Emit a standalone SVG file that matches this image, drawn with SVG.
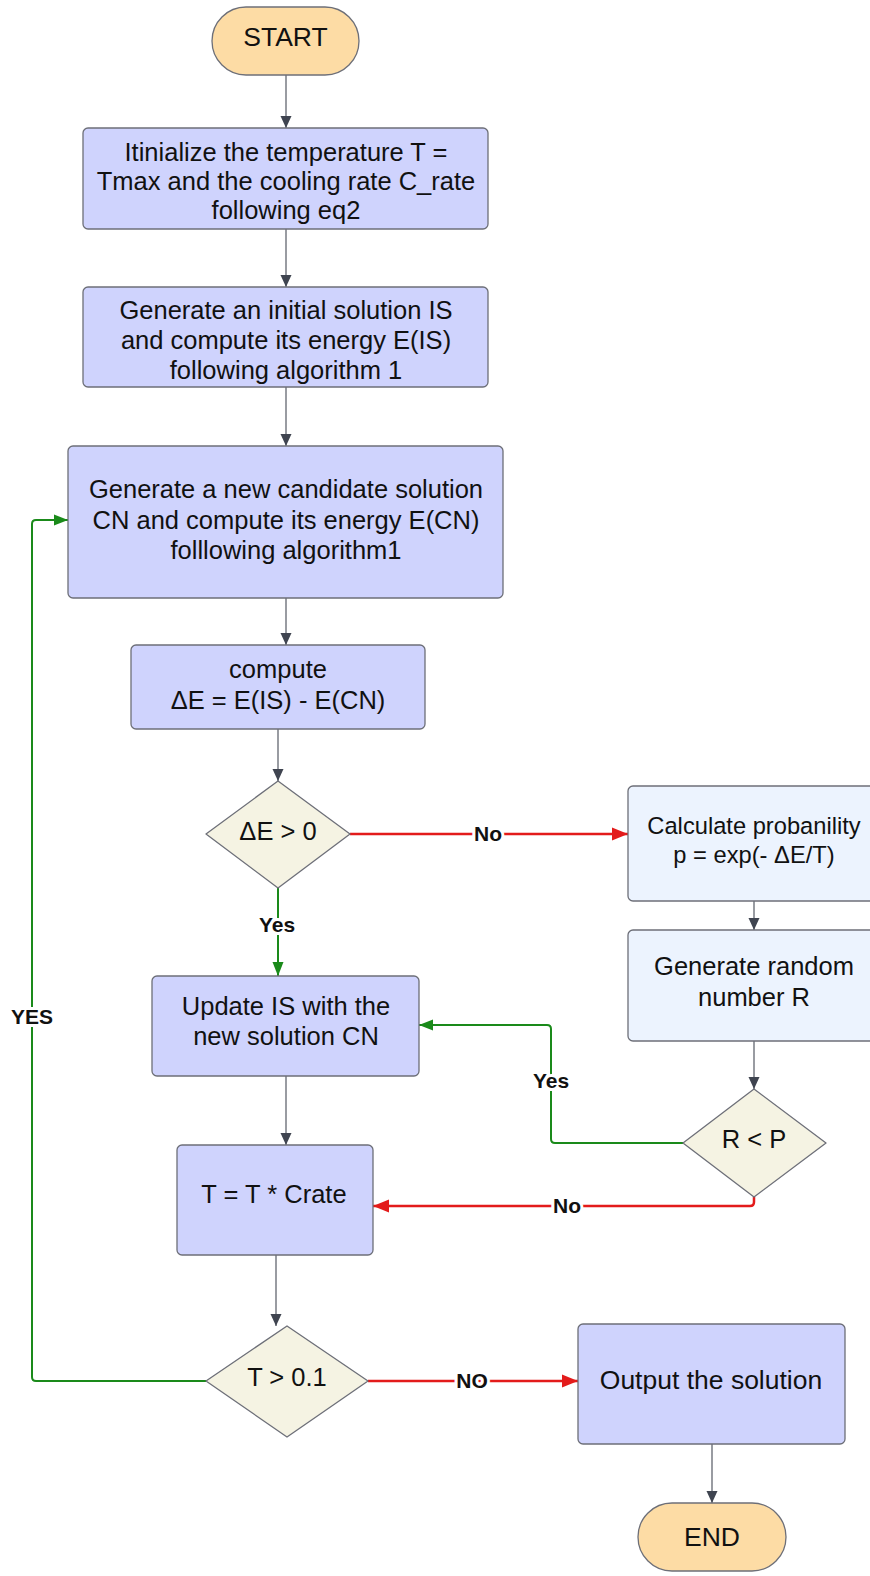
<svg xmlns="http://www.w3.org/2000/svg" width="870" height="1576" viewBox="0 0 870 1576">
  <style>
    .proc { fill: #cfd3fd; stroke: #6d6f78; stroke-width: 1.3; }
    .info { fill: #ecf3fe; stroke: #6d6f78; stroke-width: 1.3; }
    .term { fill: #fddca5; stroke: #6d6f78; stroke-width: 1.3; }
    .dec  { fill: #f5f3e3; stroke: #6d6f78; stroke-width: 1.3; stroke-linejoin: round; }
    text { font-family: "Liberation Sans", Arial, sans-serif; fill: #111; text-anchor: middle; }
    .t  { font-size: 25.5px; }
    .tl { font-size: 26.5px; }
    .ts { font-size: 23.7px; }
    .lbl { font-size: 21px; font-weight: bold; stroke: #fff; stroke-width: 6; paint-order: stroke; stroke-linejoin: round; }
    .flow { fill: none; stroke: #555a64; stroke-width: 1.2; }
    .yes  { fill: none; stroke: #1a8a1a; stroke-width: 2; }
    .no   { fill: none; stroke: #e31b1b; stroke-width: 2.5; }
  </style>
  <defs>
    <marker id="arrGray" viewBox="0 0 12 12" markerWidth="12" markerHeight="12" refX="12" refY="6" orient="auto" markerUnits="userSpaceOnUse">
      <path d="M0,0.5 L12,6 L0,11.5 Z" fill="#3f4450"/>
    </marker>
    <marker id="arrGreen" viewBox="0 0 14 12" markerWidth="14" markerHeight="12" refX="14" refY="6" orient="auto" markerUnits="userSpaceOnUse">
      <path d="M0,0.5 L14,6 L0,11.5 Z" fill="#1a8a1a"/>
    </marker>
    <marker id="arrRed" viewBox="0 0 16 14" markerWidth="16" markerHeight="14" refX="16" refY="7" orient="auto" markerUnits="userSpaceOnUse">
      <path d="M0,0.5 L16,7 L0,13.5 Z" fill="#e31b1b"/>
    </marker>
  </defs>

  <!-- connectors -->
  <g id="connectors">
    <path class="flow" d="M286,75 V128" marker-end="url(#arrGray)"/>
    <path class="flow" d="M286,229 V287" marker-end="url(#arrGray)"/>
    <path class="flow" d="M286,387 V446" marker-end="url(#arrGray)"/>
    <path class="flow" d="M286,598 V645" marker-end="url(#arrGray)"/>
    <path class="flow" d="M278,729 V781" marker-end="url(#arrGray)"/>
    <path class="yes" d="M278,888 V976" marker-end="url(#arrGreen)"/>
    <path class="no" d="M350,834 H628" marker-end="url(#arrRed)"/>
    <path class="flow" d="M754,901 V930" marker-end="url(#arrGray)"/>
    <path class="flow" d="M754,1041 V1089" marker-end="url(#arrGray)"/>
    <path class="yes" d="M683,1143 H555 Q551,1143 551,1139 V1029 Q551,1025 547,1025 H419" marker-end="url(#arrGreen)"/>
    <path class="no" d="M754,1197 V1202 Q754,1206 750,1206 H373" marker-end="url(#arrRed)"/>
    <path class="flow" d="M286,1076 V1145" marker-end="url(#arrGray)"/>
    <path class="flow" d="M276,1255 V1326" marker-end="url(#arrGray)"/>
    <path class="yes" d="M206,1381 H36 Q32,1381 32,1377 V524 Q32,520 36,520 H68" marker-end="url(#arrGreen)"/>
    <path class="no" d="M368,1381 H578" marker-end="url(#arrRed)"/>
    <path class="flow" d="M712,1444 V1503" marker-end="url(#arrGray)"/>
    <text class="lbl" x="277" y="932">Yes</text>
    <text class="lbl" x="488" y="841">No</text>
    <text class="lbl" x="551" y="1088">Yes</text>
    <text class="lbl" x="567" y="1213">No</text>
    <text class="lbl" x="32" y="1024">YES</text>
    <text class="lbl" x="472" y="1388">NO</text>
  </g>

  <g id="start">
    <rect class="term" x="212" y="7" width="147" height="68" rx="34"/>
    <text class="tl" x="285.5" y="46">START</text>
  </g>

  <g id="init-temperature">
    <rect class="proc" x="83" y="128" width="405" height="101" rx="5"/>
    <text class="t" x="286" y="161">Itinialize the temperature T =</text>
    <text class="t" x="286" y="190">Tmax and the cooling rate C_rate</text>
    <text class="t" x="286" y="219">following eq2</text>
  </g>

  <g id="initial-solution">
    <rect class="proc" x="83" y="287" width="405" height="100" rx="5"/>
    <text class="t" x="286" y="319">Generate an initial solution IS</text>
    <text class="t" x="286" y="349">and compute its energy E(IS)</text>
    <text class="t" x="286" y="379">following algorithm 1</text>
  </g>

  <g id="candidate-solution">
    <rect class="proc" x="68" y="446" width="435" height="152" rx="5"/>
    <text class="t" x="286" y="498">Generate a new candidate solution</text>
    <text class="t" x="286" y="529">CN and compute its energy E(CN)</text>
    <text class="t" x="286" y="559">folllowing algorithm1</text>
  </g>

  <g id="compute-delta">
    <rect class="proc" x="131" y="645" width="294" height="84" rx="5"/>
    <text class="t" x="278" y="678">compute</text>
    <text class="t" x="278" y="709">ΔE = E(IS) - E(CN)</text>
  </g>

  <g id="delta-positive">
    <polygon class="dec" points="278,781 350,834 278,888 206,834"/>
    <text class="t" x="278" y="840">ΔE &gt; 0</text>
  </g>

  <g id="probability">
    <rect class="info" x="628" y="786" width="252" height="115" rx="5"/>
    <text class="ts" x="754" y="834">Calculate probanility</text>
    <text class="ts" x="754" y="863">p = exp(- ΔE/T)</text>
  </g>

  <g id="random-number">
    <rect class="info" x="628" y="930" width="252" height="111" rx="5"/>
    <text class="t" x="754" y="975">Generate random</text>
    <text class="t" x="754" y="1006">number R</text>
  </g>

  <g id="update-solution">
    <rect class="proc" x="152" y="976" width="267" height="100" rx="5"/>
    <text class="t" x="286" y="1015">Update IS with the</text>
    <text class="t" x="286" y="1045">new solution CN</text>
  </g>

  <g id="r-less-p">
    <polygon class="dec" points="754,1089 826,1143 754,1197 683,1143"/>
    <text class="t" x="754" y="1148">R &lt; P</text>
  </g>

  <g id="cool-down">
    <rect class="proc" x="177" y="1145" width="196" height="110" rx="5"/>
    <text class="t" x="274" y="1203">T = T * Crate</text>
  </g>

  <g id="t-threshold">
    <polygon class="dec" points="287,1326 368,1381 287,1437 206,1381"/>
    <text class="t" x="287" y="1386">T &gt; 0.1</text>
  </g>

  <g id="output">
    <rect class="proc" x="578" y="1324" width="267" height="120" rx="5"/>
    <text class="tl" x="711" y="1389">Output the solution</text>
  </g>

  <g id="end">
    <rect class="term" x="638" y="1503" width="148" height="68" rx="34"/>
    <text class="tl" x="712" y="1546">END</text>
  </g>
</svg>
